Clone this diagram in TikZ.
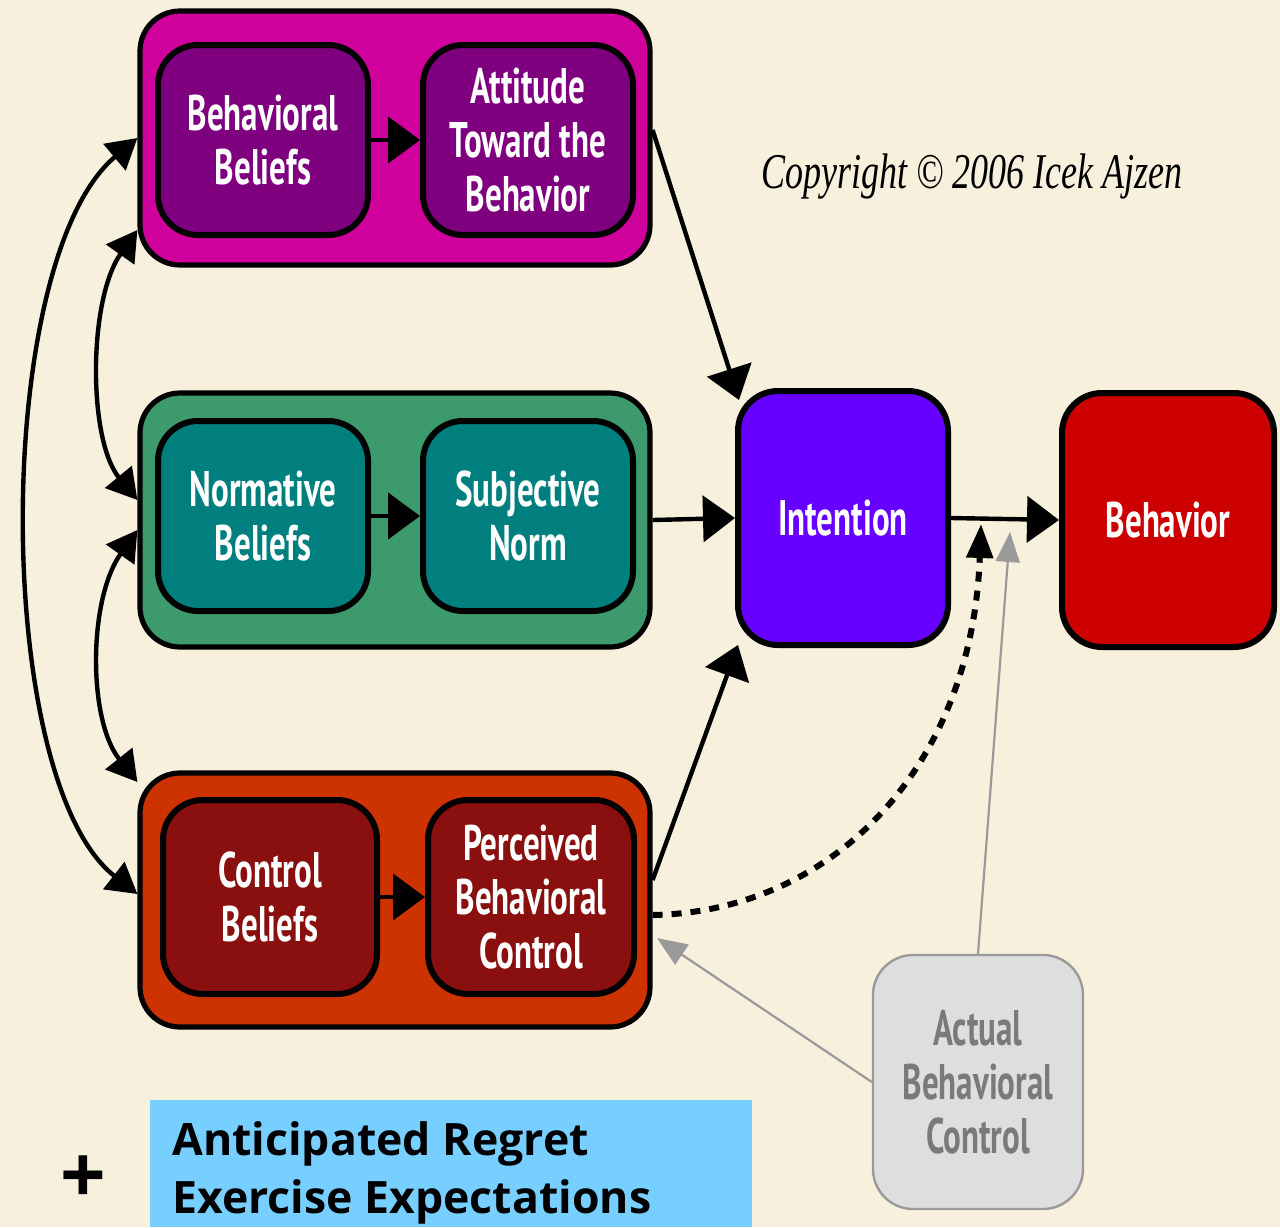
\documentclass[tikz,border=0pt]{standalone}
\usepackage{fontspec}
\usetikzlibrary{arrows.meta}
\setmainfont{PT Sans}
\newfontfamily\boxfont[FakeStretch=0.66]{PT Sans}
\newfontfamily\copyfont[FakeStretch=0.72]{Liberation Serif}
\newfontfamily\notefont{Open Sans}
\definecolor{bg}{HTML}{F6F0DD}
\definecolor{magOut}{HTML}{D0009C}
\definecolor{purpIn}{HTML}{7F007F}
\definecolor{grnOut}{HTML}{3C9A6C}
\definecolor{tealIn}{HTML}{007F7F}
\definecolor{orgOut}{HTML}{CC3300}
\definecolor{redIn}{HTML}{8A1010}
\definecolor{intC}{HTML}{6600FF}
\definecolor{behC}{HTML}{CC0000}
\definecolor{abcFill}{HTML}{DEDEDE}
\definecolor{abcLine}{HTML}{9A9A9A}
\definecolor{abcText}{HTML}{7A7A7A}
\definecolor{noteBlue}{HTML}{77CFFF}
\begin{document}
\begin{tikzpicture}[x=0.5pt,y=-0.5pt,
  outer/.style={draw=black, line width=2.6pt, rounded corners=20pt, inner sep=0pt, minimum width=255pt, minimum height=127pt},
  inner/.style={draw=black, line width=3pt, rounded corners=20pt, inner sep=0pt, minimum width=105pt, minimum height=95pt, text=white, align=center, font=\boxfont\bfseries\fontsize{25}{27}\selectfont},
  big/.style={inner, minimum height=127pt},
  arr/.style={line width=2.2pt, -{Triangle[length=16pt,width=23pt]}},
  darr/.style={line width=2.2pt, {Triangle[length=15pt,width=17pt]}-{Triangle[length=15pt,width=17pt]}},
  garr/.style={draw=abcLine, line width=1.1pt, -{Triangle[length=15pt,width=12pt]}}
]
\path[use as bounding box, fill=bg] (0,0) rectangle (1280,1227);

% outer groups
\node[outer, fill=magOut] (topO) at (395,138) {};
\node[outer, fill=grnOut] (midO) at (395,520) {};
\node[outer, fill=orgOut] (botO) at (395,900) {};

% inner boxes
\node[inner, fill=purpIn] (bb) at (263,140) {Behavioral\\Beliefs};
\node[inner, fill=purpIn] (att) at (528,140) {Attitude\\Toward the\\Behavior};
\node[inner, fill=tealIn] (nb) at (263,516) {Normative\\Beliefs};
\node[inner, fill=tealIn] (sn) at (528,516) {Subjective\\Norm};
\node[inner, fill=redIn, minimum width=107pt, minimum height=97pt] (cb) at (270,897) {Control\\Beliefs};
\node[inner, fill=redIn, minimum width=103pt, minimum height=97pt] (pbc) at (531,897) {Perceived\\Behavioral\\Control};

\node[big, fill=intC] (int) at (843,518) {Intention};
\node[big, fill=behC, minimum width=106pt] (beh) at (1168,520) {Behavior};
\node[big, fill=abcFill, draw=abcLine, line width=1.2pt, text=abcText] (abc) at (978,1082) {Actual\\Behavioral\\Control};

% copyright
\node[font=\copyfont\itshape\fontsize{25}{25}\selectfont] (copy) at (972,177) {Copyright © 2006 Icek Ajzen};

% inner arrows
\draw[arr] (bb) -- (att);
\draw[arr] (nb) -- (sn);
\draw[arr] (cb) -- (pbc);

% to intention
\draw[arr] ([shift={(0,-8)}]topO.east) -- ([shift={(4,12)}]int.north west);
\draw[arr] (midO.east) -- (int.west);
\draw[arr] ([shift={(0,-20)}]botO.east) -- ([shift={(3,-3)}]int.south west);
\draw[arr] (int.east) -- (beh.west);

% dashed moderation
\coordinate (dtip) at (981,524);
\draw[line width=3pt, dash pattern=on 5pt off 4.5pt, -{Triangle[length=17pt,width=13pt]}]
  ([shift={(0,15)}]botO.east) .. controls (830,912) and (972,770) .. (dtip);

% grey arrows
\coordinate (gtip) at (1010,532);
\coordinate (gtip2) at (657,938);
\draw[garr] (abc.north) -- (gtip);
\draw[garr] (abc.west) -- (gtip2);

% left correlations
\draw[darr] (topO.west) .. controls (-8,260) and (-8,780) .. ([shift={(0,-6)}]botO.west);
\draw[darr] ([shift={(0,92)}]topO.west) .. controls (88,300) and (88,440) .. ([shift={(0,-20)}]midO.west);
\draw[darr] ([shift={(0,10)}]midO.west) .. controls (88,600) and (88,720) .. ([shift={(0,-118)}]botO.west);

% note box
\node[fill=noteBlue, inner sep=0pt, minimum width=301pt, minimum height=63.5pt, anchor=north west] (note) at (150,1100) {};
\node[anchor=base west, inner sep=0pt, font=\notefont\bfseries\fontsize{22.3}{22.3}\selectfont] (n1) at (172,1155) {Anticipated Regret};
\node[anchor=base west, inner sep=0pt, font=\notefont\bfseries\fontsize{22.3}{22.3}\selectfont] (n2) at (172,1213) {Exercise Expectations};
\node[font=\notefont\bfseries\fontsize{40}{40}\selectfont] (plus) at (83,1180) {+};
\end{tikzpicture}
\end{document}
